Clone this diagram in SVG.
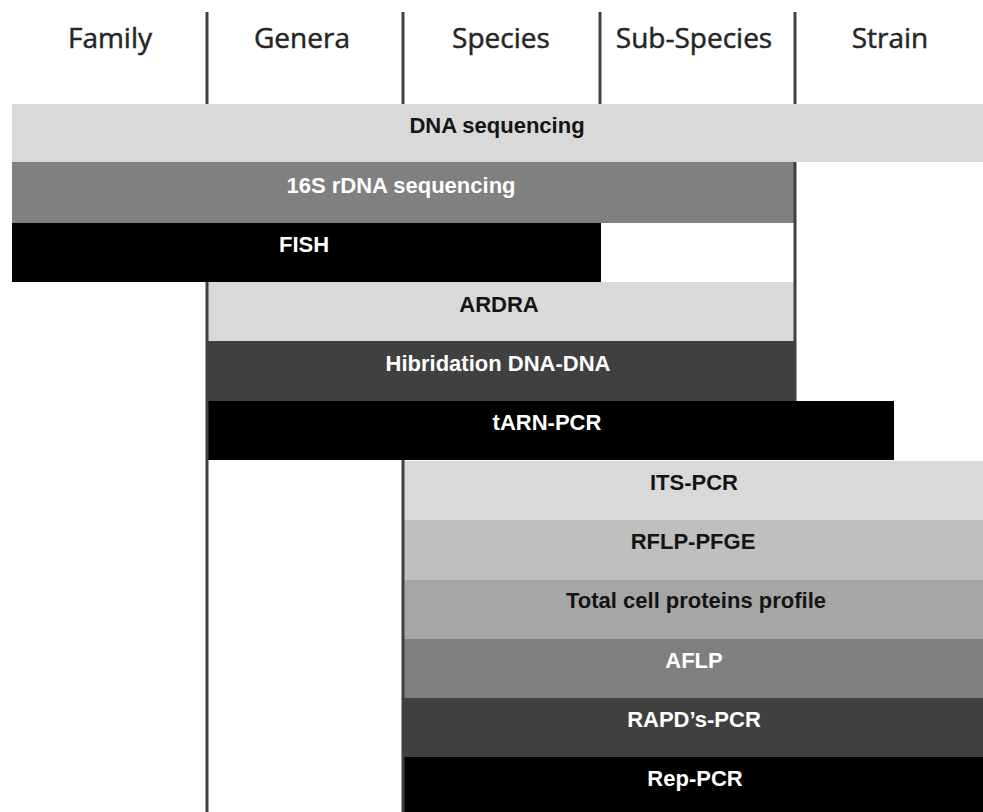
<svg xmlns="http://www.w3.org/2000/svg" width="983" height="812" viewBox="0 0 983 812">
<style>
.hdr{font-family:"Open Sans","Noto Sans",sans-serif;font-size:28px;fill:#262626;stroke:#262626;stroke-width:0.5;text-anchor:middle}
.lbl{font-family:"Liberation Sans",Arial,sans-serif;font-size:22px;font-weight:bold;text-anchor:middle}
.dk{fill:#141414}
.wt{fill:#ffffff}
.div{stroke:#404040;stroke-width:3;fill:none}
</style>
<rect width="983" height="812" fill="#ffffff"/>
<g id="headers">
<text class="hdr" x="110" y="48">Family</text>
<text class="hdr" x="302" y="48">Genera</text>
<text class="hdr" x="501" y="48">Species</text>
<text class="hdr" x="694" y="48">Sub-Species</text>
<text class="hdr" x="890" y="48">Strain</text>
</g>
<g id="dna-sequencing"><rect x="12" y="104" width="971" height="58" fill="#d9d9d9"/><text class="lbl dk" x="497" y="133">DNA sequencing</text></g>
<g id="rdna-16s"><rect x="12" y="162" width="783" height="61" fill="#808080"/><text class="lbl wt" x="401" y="193">16S rDNA sequencing</text></g>
<g id="fish"><rect x="12" y="223" width="589" height="59" fill="#000000"/><text class="lbl wt" x="304" y="252">FISH</text></g>
<g id="ardra"><rect x="207" y="282" width="588" height="59" fill="#d9d9d9"/><text class="lbl dk" x="499" y="312">ARDRA</text></g>
<g id="hibridation"><rect x="207" y="341" width="588" height="60" fill="#404040"/><text class="lbl wt" x="498" y="371">Hibridation DNA-DNA</text></g>
<g id="tarn-pcr"><rect x="207" y="401" width="687" height="59" fill="#000000"/><text class="lbl wt" x="547" y="430">tARN-PCR</text></g>
<g id="its-pcr"><rect x="403" y="461" width="580" height="59" fill="#d9d9d9"/><text class="lbl dk" x="694" y="490">ITS-PCR</text></g>
<g id="rflp-pfge"><rect x="403" y="520" width="580" height="60" fill="#bfbfbf"/><text class="lbl dk" x="693" y="549">RFLP-PFGE</text></g>
<g id="total-cell"><rect x="403" y="580" width="580" height="59" fill="#a6a6a6"/><text class="lbl dk" x="696" y="608">Total cell proteins profile</text></g>
<g id="aflp"><rect x="403" y="639" width="580" height="59" fill="#7f7f7f"/><text class="lbl wt" x="694" y="668">AFLP</text></g>
<g id="rapd-pcr"><rect x="403" y="698" width="580" height="59" fill="#404040"/><text class="lbl wt" x="694" y="727">RAPD’s-PCR</text></g>
<g id="rep-pcr"><rect x="403" y="757" width="580" height="55" fill="#000000"/><text class="lbl wt" x="695" y="786">Rep-PCR</text></g>
<g id="dividers">
<line class="div" x1="207" y1="12" x2="207" y2="104"/>
<line class="div" x1="403" y1="12" x2="403" y2="104"/>
<line class="div" x1="600" y1="12" x2="600" y2="104"/>
<line class="div" x1="795" y1="12" x2="795" y2="104"/>
<line class="div" x1="795" y1="162" x2="795" y2="401"/>
<line class="div" x1="207" y1="282" x2="207" y2="812"/>
<line class="div" x1="403" y1="460" x2="403" y2="812"/>
</g>
</svg>
